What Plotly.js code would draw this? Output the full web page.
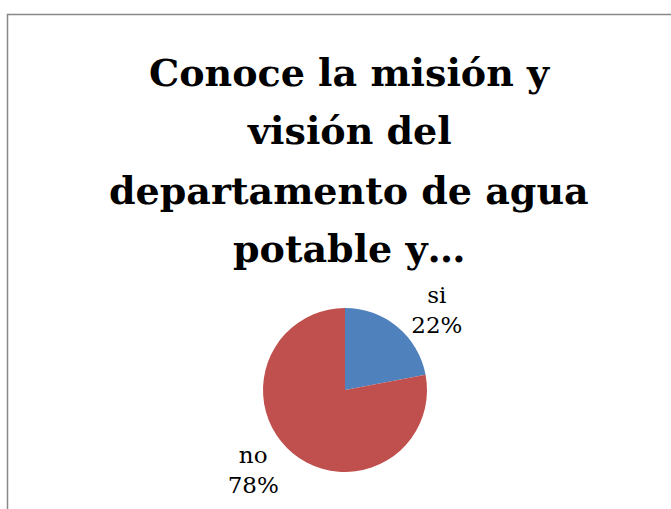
<!DOCTYPE html>
<html><head><meta charset="utf-8">
<script src="https://cdn.plot.ly/plotly-3.0.1.min.js"></script>
<style>html,body{margin:0;padding:0;background:#fff;}#chart{width:671px;height:509px;}</style>
</head><body><div id="chart"></div>
<script>
var categories = ["si", "no"];
var values = [22, 78];
var colors = ["#4F81BD", "#C0504D"];
var titleLines = ["Conoce la misión y", "visión del", "departamento de agua", "potable y…"];

var W = 671, H = 509;
var cx = 345, cy = 390, r = 82;
var trace = {
  type: "pie",
  labels: categories,
  values: values,
  sort: false,
  direction: "clockwise",
  rotation: 0,
  marker: {colors: colors, line: {width: 0}},
  texttemplate: "%{label}<br>%{percent:.0%}",
  textposition: "outside",
  outsidetextfont: {family: "DejaVu Serif", size: 23, color: "#000"},
  showlegend: false,
  hoverinfo: "none",
  domain: {x: [(cx - r) / W, (cx + r) / W], y: [(H - cy - r) / H, (H - cy + r) / H]}
};
var lineY = [72, 131, 190, 248];
var annotations = titleLines.map(function (t, i) {
  return {text: "<b>" + t + "</b>", xref: "paper", yref: "paper", x: 349 / W, y: 1 - lineY[i] / H,
          xanchor: "center", yanchor: "middle", showarrow: false,
          font: {family: "DejaVu Serif", size: 38, color: "#000"}};
});
var layout = {
  width: W, height: H,
  margin: {l: 0, r: 0, t: 0, b: 0},
  paper_bgcolor: "#fff",
  annotations: annotations,
  shapes: [{type: "rect", xref: "paper", yref: "paper", x0: 7.5 / W, x1: 1.2, y0: -0.2, y1: 1 - 14.5 / H,
            line: {color: "#888888", width: 1.5}, fillcolor: "rgba(0,0,0,0)"}]
};
Plotly.newPlot("chart", [trace], layout, {staticPlot: true});
</script></body></html>
